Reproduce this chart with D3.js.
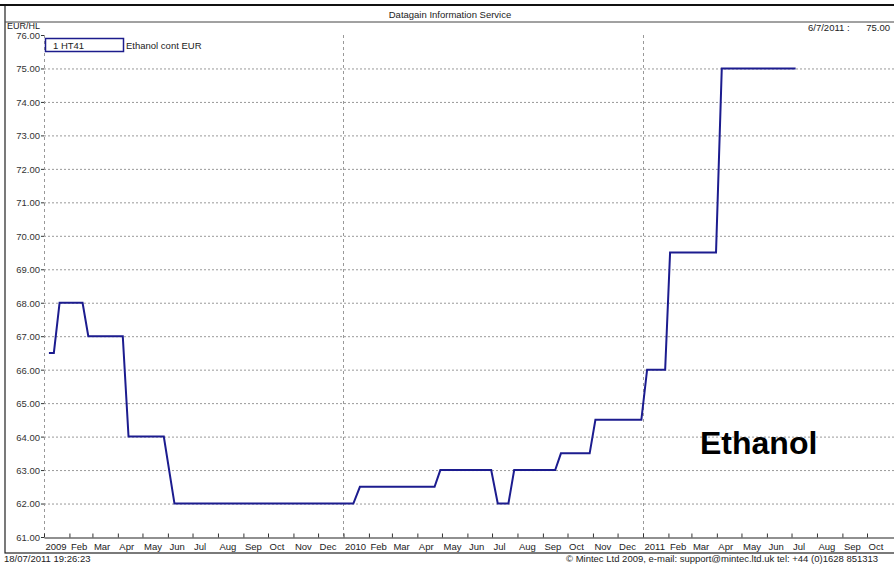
<!DOCTYPE html>
<html>
<head>
<meta charset="utf-8">
<script src="https://cdn.jsdelivr.net/npm/d3@7"></script>
<style>
  body { margin: 0; background: #fff; }
  svg { display: block; font-family: "Liberation Sans", Arial, sans-serif; }
</style>
</head>
<body>
<div id="chart"></div>
<script>
// Ethanol cont EUR (EUR/HL) - change points
const dates = [
  "2009-01-07", "2009-01-13", "2009-01-20", "2009-02-17", "2009-02-24",
  "2009-04-07", "2009-04-14", "2009-05-27", "2009-06-09", "2010-01-13",
  "2010-01-21", "2010-04-22", "2010-04-29", "2010-06-30", "2010-07-08",
  "2010-07-21", "2010-07-28", "2010-09-16", "2010-09-23", "2010-10-28",
  "2010-11-04", "2010-12-30", "2011-01-06", "2011-01-28", "2011-02-03",
  "2011-03-31", "2011-04-07", "2011-07-06"
];
const values = [
  66.5, 66.5, 68, 68, 67,
  67, 64, 64, 62, 62,
  62.5, 62.5, 63, 63, 62,
  62, 63, 63, 63.5, 63.5,
  64.5, 64.5, 66, 66, 69.5,
  69.5, 75, 75
];
const yTicks = [61, 62, 63, 64, 65, 66, 67, 68, 69, 70, 71, 72, 73, 74, 75, 76];
const monthNames = ["", "Feb", "Mar", "Apr", "May", "Jun", "Jul", "Aug", "Sep", "Oct", "Nov", "Dec"];
const yearLines = ["2009-01-01", "2010-01-01", "2011-01-01"];

const W = 894, H = 564;
const parse = d3.utcParse("%Y-%m-%d");
const series = dates.map((d, i) => ({ date: parse(d), value: values[i] }));

const svg = d3.select("#chart").append("svg").attr("width", W).attr("height", H);

// Skalen
const x = d3.scaleUtc()
  .domain([parse("2009-01-01"), parse("2012-01-01")])
  .range([44, 44 + 3 * 299.5]);
const y = d3.scaleLinear().domain([61, 76]).range([537, 35]);

// Rahmen + Kopfzeile
svg.append("rect").attr("x", 5).attr("y", 5).attr("width", W + 10).attr("height", 548)
  .attr("fill", "none").attr("stroke", "#222").attr("stroke-width", 1.2);
svg.append("line").attr("x1", 0).attr("x2", W).attr("y1", 5).attr("y2", 5)
  .attr("stroke", "#111").attr("stroke-width", 2);
svg.append("line").attr("x1", 5).attr("x2", W).attr("y1", 22).attr("y2", 22)
  .attr("stroke", "#444").attr("stroke-width", 1);
svg.append("text").attr("x", 450).attr("y", 18).attr("text-anchor", "middle")
  .style("font-size", "9.5px").attr("fill", "#222").text("Datagain Information Service");
svg.append("text").attr("x", 7).attr("y", 28.5)
  .style("font-size", "9px").attr("fill", "#222").text("EUR/HL");
svg.append("text").attr("x", 808).attr("y", 31)
  .style("font-size", "9.5px").attr("fill", "#222").text("6/7/2011 :");
svg.append("text").attr("x", 890).attr("y", 31).attr("text-anchor", "end")
  .style("font-size", "9.5px").attr("fill", "#222").text("75.00");

// Gitter
svg.append("g").selectAll("line").data(yTicks.filter(v => v > 61 && v < 76)).join("line")
  .attr("x1", 44).attr("x2", W).attr("y1", d => y(d) + 0.5).attr("y2", d => y(d) + 0.5)
  .attr("stroke", "#999").attr("stroke-dasharray", "2,2");
svg.append("g").selectAll("line").data(yearLines).join("line")
  .attr("x1", d => Math.round(x(parse(d))) + 0.5).attr("x2", d => Math.round(x(parse(d))) + 0.5)
  .attr("y1", 35).attr("y2", 537)
  .attr("stroke", "#999").attr("stroke-dasharray", "3,3");

// Y-Achse
const gy = svg.append("g").attr("transform", "translate(44,0)")
  .call(d3.axisLeft(y).tickValues(yTicks).tickSize(3).tickFormat(d3.format(".2f")));
gy.select(".domain").remove();
gy.selectAll("line").attr("stroke", "#333");
gy.selectAll("text").attr("x", -4).attr("dy", "0.36em").style("font-size", "9.5px").attr("fill", "#333")
  .style("font-family", "Liberation Sans, Arial, sans-serif");

// X-Achse: Monatsticks bis Okt 2011 (Rest liegt ausserhalb des Bildes)
const monthTicks = d3.utcMonth.range(parse("2009-01-01"), parse("2011-11-01"));
const gx = svg.append("g").attr("transform", "translate(0,537.5)")
  .call(d3.axisBottom(x).tickValues(monthTicks).tickSizeInner(-4).tickSizeOuter(0)
    .tickFormat(d => d.getUTCMonth() === 0 ? d.getUTCFullYear() : monthNames[d.getUTCMonth()]));
gx.select(".domain").attr("stroke", "#222").attr("stroke-width", 1.2);
gx.selectAll("line").attr("stroke", "#333");
gx.selectAll("text").attr("text-anchor", "start").attr("x", 1).attr("y", 12).attr("dy", 0)
  .style("font-size", "9.5px").attr("fill", "#222")
  .style("font-family", "Liberation Sans, Arial, sans-serif");

// Legende
svg.append("rect").attr("x", 45.5).attr("y", 38.5).attr("width", 78).attr("height", 13)
  .attr("fill", "#fff").attr("stroke", "#1c1c8c").attr("stroke-width", 1.5);
svg.append("text").attr("x", 53).attr("y", 48.5).style("font-size", "9.5px").attr("fill", "#222").text("1 HT41");
svg.append("text").attr("x", 126).attr("y", 48.5).style("font-size", "9.5px").attr("fill", "#222").text("Ethanol cont EUR");

// Preislinie
const line = d3.line().x(d => x(d.date)).y(d => y(d.value));
svg.append("path").datum(series)
  .attr("fill", "none").attr("stroke", "#1c1c8f").attr("stroke-width", 2)
  .attr("d", line);

svg.append("text").attr("x", 700).attr("y", 454)
  .style("font-size", "32px").style("font-weight", "bold").attr("fill", "#000").text("Ethanol");

// Fusszeile
svg.append("text").attr("x", 4).attr("y", 562).style("font-size", "9.5px").attr("fill", "#222")
  .text("18/07/2011 19:26:23");
svg.append("text").attr("x", 566).attr("y", 562).style("font-size", "9.5px").attr("fill", "#222")
  .text("© Mintec Ltd 2009, e-mail: support@mintec.ltd.uk tel: +44 (0)1628 851313");
</script>
</body>
</html>
